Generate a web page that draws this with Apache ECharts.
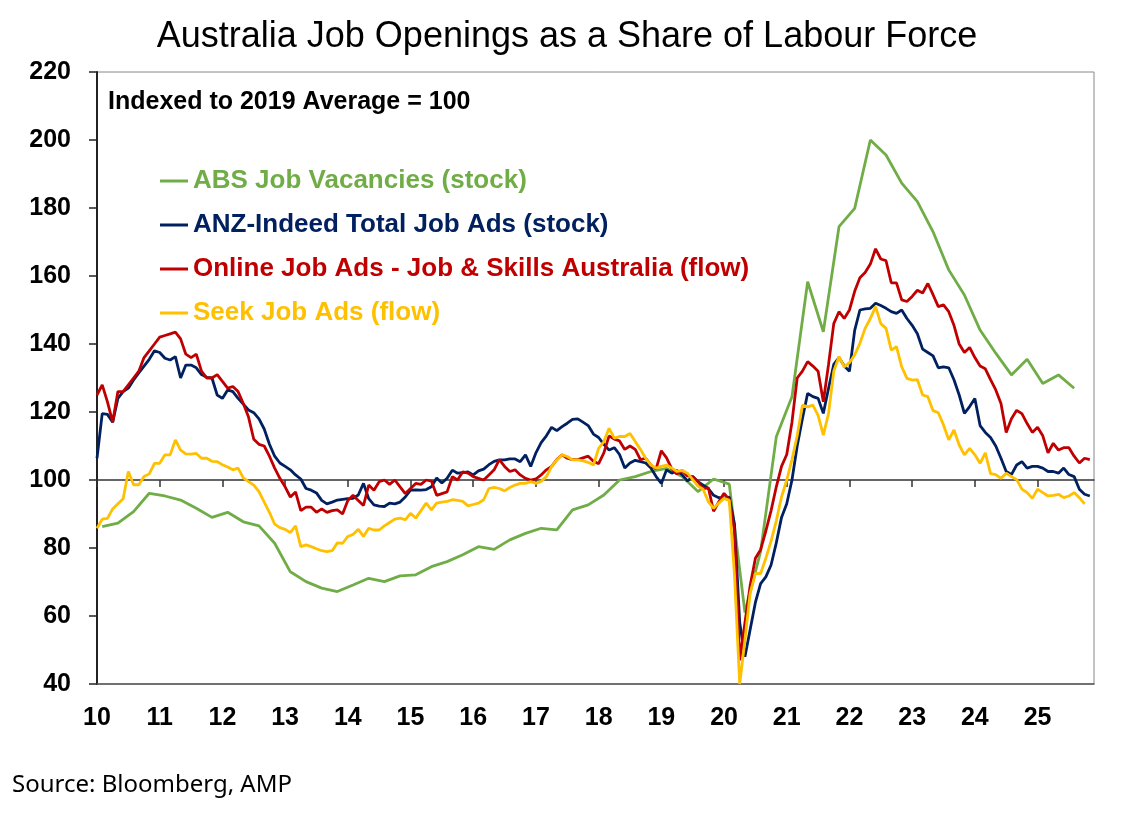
<!DOCTYPE html>
<html>
<head>
<meta charset="utf-8">
<title>Australia Job Openings as a Share of Labour Force</title>
<script src="https://cdn.jsdelivr.net/npm/echarts@6/dist/echarts.min.js"></script>
<style>
html, body { margin: 0; padding: 0; background: #fff; }
#chart { width: 1134px; height: 820px; }
</style>
</head>
<body>
<div id="chart"></div>
<script>
// monthly series start Jan 2010, ABS is quarterly (plotted mid-quarter)
var startYear = 2010;
var tickYears = [2010, 2011, 2012, 2013, 2014, 2015, 2016, 2017, 2018, 2019, 2020, 2021, 2022, 2023, 2024, 2025];

var absVacancies = [86.3, 87.3, 90.7, 96.1, 95.3, 94.1, 91.7, 89, 90.5, 87.7, 86.5, 81.4,
    73, 70.1, 68.2, 67.2, 69.1, 71.1, 70.1, 71.8, 72.1, 74.5, 76, 78,
    80.4, 79.6, 82.4, 84.3, 85.8, 85.3, 91.2, 92.7, 95.6, 100, 101, 102.5,
    103.4, 101, 96.6, 100.3, 98.8, 61, 79, 112.7, 124.5, 158.3, 143.6, 174.5,
    179.9, 200, 195.6, 187.3, 181.9, 173, 161.8, 154.4, 144.1, 137.3, 130.9, 135.5,
    128.4, 130.9, 127];

var anzIndeed = [
    106.4, 119.5, 119.3, 117, 124, 126, 127, 129.4, 131.5, 133.5, 135.5, 138,   // 2010
    137.5, 135.8, 135.3, 136.3, 130, 133.8, 133.8, 133, 131, 130.2, 130, 125,   // 2011
    124, 126.5, 126, 124, 122.3, 120.6, 119.8, 118, 115, 110.5, 107, 105,      // 2012
    104, 103, 101.5, 100.3, 97.5, 97, 96.2, 94, 93, 93.5, 94.1, 94.3,         // 2013
    94.5, 94.6, 95.6, 99, 94.5, 92.7, 92.3, 92.2, 93.2, 93, 93.5, 95,         // 2014
    97, 97.1, 97, 97.2, 98, 100.6, 99.1, 100.5, 102.9, 102, 102.2, 102.4,     // 2015
    101.5, 102.7, 103.2, 104.5, 105.5, 105.9, 105.9, 106.2, 106.2, 105.4, 107.4, 104, // 2016
    108, 111, 113, 115.5, 114.5, 115.7, 116.7, 117.8, 118, 117, 116, 113.5,  // 2017
    112.5, 110.5, 108.8, 109.5, 107.5, 103.5, 105, 105.8, 105.4, 105, 103.5, 101, // 2018
    99, 103, 102, 102.8, 101.5, 99.7, 101, 99.5, 98.5, 97.5, 95.5, 94.8,      // 2019
    94.7, 95, 87, 58, 48, 56, 64, 69.5, 71.5, 75, 81.5, 89,                   // 2020
    93, 100, 110, 118, 125.5, 124.5, 124, 119.6, 127, 134, 136, 133.5,        // 2021
    132, 144, 150, 150.3, 150.5, 152, 151.3, 150.5, 149.5, 149, 150, 147.5,   // 2022
    145.5, 143, 138.5, 137.5, 136.5, 133, 133.3, 133, 129.5, 125, 119.6, 121.6, // 2023
    124, 116, 114, 112.5, 110, 106.4, 102.5, 101.6, 104.4, 105.4, 103.5, 104, // 2024
    104, 103.5, 102.5, 102.5, 102, 103.5, 101.6, 101, 97.3, 95.8, 95.3        // 2025
];

var onlineJobAds = [
    125, 128, 123, 117, 126, 126, 128, 130, 132, 136, 138, 140,               // 2010
    142, 142.5, 143, 143.5, 141.5, 137, 136, 137, 132, 130, 130, 131,         // 2011
    129, 127, 127.5, 126, 122.5, 118.5, 112, 110.5, 110, 107, 103.5, 100.5,   // 2012
    98, 95, 96.5, 91, 92, 92, 90.5, 91.5, 90.5, 91, 91.2, 90,                 // 2013
    94, 95.5, 94, 92.5, 98.5, 97, 99.5, 100, 98.7, 100, 98, 96,               // 2014
    97.5, 99, 98.7, 100, 99.7, 95.5, 96, 96.5, 101, 100, 102.4, 102,          // 2015
    101, 100.5, 100, 101.5, 103, 106, 104, 102.5, 103, 101.5, 100.5, 100,     // 2016
    100.3, 101.5, 103, 104, 106, 107.4, 106.4, 106, 106, 106.5, 107, 105.5,   // 2017
    104.8, 108, 113, 112, 111.5, 109, 110, 109, 106, 106.4, 104.4, 103.3,     // 2018
    108.6, 106.5, 103.3, 101.8, 102.8, 101.2, 101, 99.5, 97.5, 97.7, 90.8, 93.6, // 2019
    96.1, 94.2, 85, 47, 58, 69, 77, 79.5, 85, 91, 98, 104,                    // 2020
    107.5, 117, 130, 132, 134.8, 133.5, 132, 123, 134, 146, 149.5, 147.5,     // 2021
    150, 155.5, 159.5, 161, 163.5, 168, 165, 164.5, 158, 158, 153, 152.5,     // 2022
    154, 155.8, 155, 157.8, 154.5, 151, 151.5, 149.5, 145.5, 140, 137.5, 139, // 2023
    136, 133.5, 132.7, 129.5, 126.5, 122.5, 114, 118, 120.5, 119.5, 116.6, 114, // 2024
    115.5, 113, 108, 110.8, 108.8, 109.5, 109.5, 107, 105, 106.4, 106        // 2025
];

var seekJobAds = [
    85.8, 88.5, 88.7, 91.5, 93, 94.5, 102.5, 98.6, 98.6, 101, 101.8, 104.9,   // 2010
    104.9, 107.4, 107.4, 111.8, 108.8, 107.7, 107.6, 107.8, 106.4, 106.4, 105.5, 105.4, // 2011
    104.5, 103.8, 103, 103.5, 100.6, 99.5, 98.5, 96.6, 93.5, 90.5, 87, 86,    // 2012
    85.5, 84.5, 86.5, 80.4, 80.9, 80.4, 79.8, 79.2, 78.9, 79.2, 81.5, 81.4,   // 2013
    83.4, 84, 85.5, 83.4, 85.8, 85.3, 85.3, 86.5, 87.5, 88.5, 88.8, 88.3,     // 2014
    90.2, 88.8, 91, 93.2, 91.2, 93.2, 93.5, 93.7, 94.2, 94, 93.7, 92.4,       // 2015
    92.8, 93.2, 94.2, 97.5, 97.8, 97.5, 96.8, 97.8, 98.5, 99, 99, 99.5,       // 2016
    99, 99.6, 101, 104, 105.9, 107.4, 106.9, 105.9, 105.9, 105.6, 105.2, 104.4, // 2017
    109.3, 111.3, 115.2, 112.3, 112.8, 112.8, 113.7, 111.3, 109, 106.4, 104.4, 103.5, // 2018
    104, 104.4, 103.5, 102.5, 102.8, 102, 100.1, 98.2, 97.3, 93.6, 91.7, 93.2, // 2019
    94.6, 94, 72, 40, 53, 66.7, 72.5, 72.5, 77, 82, 88, 95,                   // 2020
    100, 106, 113, 122, 121.5, 122, 119, 113.2, 119.6, 132, 136.3, 133.3,     // 2021
    134.5, 136.8, 140.2, 144.6, 147.5, 151, 146, 144.6, 138.2, 139.2, 133.3, 129.9, // 2022
    129.4, 129.5, 125, 124.5, 120.4, 119.8, 116.2, 111.8, 114.7, 110.3, 107.4, 109.3, // 2023
    107.4, 104.9, 108, 101.9, 101.6, 100.5, 102, 101, 100.1, 97.3, 96.3, 94.6, // 2024
    97.3, 96.3, 95.3, 95.5, 95.8, 94.8, 95.3, 96.3, 94.8, 93, null            // 2025
];

var seriesNames = ['ABS Job Vacancies (stock)', 'ANZ-Indeed Total Job Ads (stock)',
    'Online Job Ads - Job & Skills Australia (flow)', 'Seek Job Ads (flow)'];
var colors = ['#70AD47', '#002060', '#C00000', '#FFC000'];

function monthly(arr) {
    return arr.map(function (v, i) { return [startYear + i / 12, v]; });
}
function quarterly(arr) {
    return arr.map(function (v, i) { return [startYear + (3 * i + 1) / 12, v]; });
}

var chart = echarts.init(document.getElementById('chart'));
var font = '"Liberation Sans", Arial, sans-serif';
var allData = [quarterly(absVacancies), monthly(anzIndeed), monthly(onlineJobAds), monthly(seekJobAds)];

var option = {
    animation: false,
    backgroundColor: '#fff',
    title: {
        text: 'Australia Job Openings as a Share of Labour Force',
        left: 'center',
        top: 14,
        textStyle: { fontFamily: font, fontSize: 36, fontWeight: 'normal', color: '#000' }
    },
    legend: {
        orient: 'vertical',
        left: 155,
        top: 163,
        icon: 'rect',
        itemWidth: 28,
        itemHeight: 3,
        itemGap: 18,
        data: seriesNames.map(function (n, i) {
            return { name: n, textStyle: { color: colors[i] } };
        }),
        textStyle: { fontFamily: font, fontSize: 26, fontWeight: 'bold', lineHeight: 26 }
    },
    graphic: [
        {
            type: 'text', left: 108, top: 90,
            style: { text: 'Indexed to 2019 Average = 100', font: 'bold 25px ' + font, fill: '#000' }
        },
        {
            type: 'text', left: 12, top: 773,
            style: { text: 'Source: Bloomberg, AMP', font: '24px "Noto Sans", sans-serif', fill: '#000' }
        }
    ],
    grid: {
        left: 97, right: 40, top: 72, bottom: 136,
        show: true, borderColor: '#888', borderWidth: 1
    },
    xAxis: [
        {
            type: 'value', min: 2010, max: 2025.9, position: 'bottom',
            axisLine: { show: true, lineStyle: { color: '#555', width: 1.5 } },
            axisTick: { show: false },
            splitLine: { show: false },
            axisLabel: {
                customValues: tickYears,
                formatter: function (v) { return String(Math.round(v)).slice(2); },
                fontFamily: font, fontSize: 25, fontWeight: 'bold', color: '#000', margin: 22
            }
        },
        {
            // the 100 line with year ticks
            type: 'value', min: 2010, max: 2025.9, position: 'bottom', offset: -204,
            axisLine: { show: true, lineStyle: { color: '#333', width: 1.5 } },
            axisTick: { show: true, customValues: tickYears, length: 7, lineStyle: { color: '#333', width: 1.5 } },
            axisLabel: { show: false },
            splitLine: { show: false }
        }
    ],
    yAxis: {
        type: 'value', min: 40, max: 220, interval: 20,
        axisLine: { show: true, lineStyle: { color: '#222', width: 2 } },
        axisTick: { show: true, length: 8, lineStyle: { color: '#222', width: 1.5 } },
        splitLine: { show: false },
        axisLabel: { fontFamily: font, fontSize: 25, fontWeight: 'bold', color: '#000', margin: 26 }
    },
    series: seriesNames.map(function (n, i) {
        return {
            name: n,
            type: 'line',
            xAxisIndex: 0,
            data: allData[i],
            symbol: 'none',
            color: colors[i],
            lineStyle: { width: 2.8, color: colors[i] }
        };
    })
};

chart.setOption(option);
</script>
</body>
</html>
